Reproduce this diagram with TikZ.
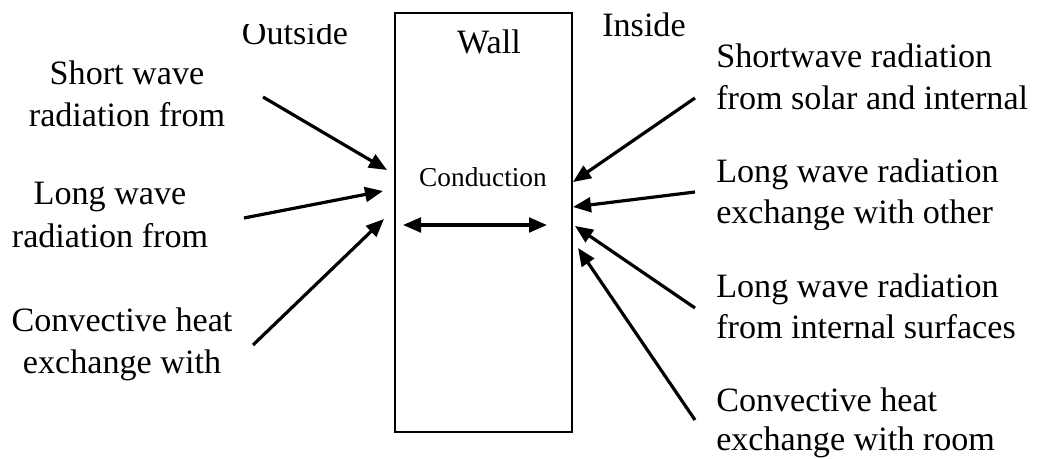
\documentclass[tikz,border=0pt]{standalone}
\usepackage{fontspec}
\setmainfont{Liberation Serif}
\usetikzlibrary{arrows.meta}
\begin{document}
\begin{tikzpicture}[x=0.75pt,y=-0.75pt,
  lbl/.style={inner sep=0pt, anchor=base, font=\fontsize{25.6}{30}\selectfont},
  lblL/.style={lbl, anchor=base west},
  tip/.tip={Triangle[length=13.5pt,width=11pt]},
  flow/.style={-tip, line width=2.4pt},
  wallbox/.style={draw, line width=1.8pt}]
\useasboundingbox (0,0) rectangle (1040,459);
% wall
\draw[wallbox] (395,13) rectangle (572,432);
\node[lbl] (wall) at (489,54) {Wall};
\node[lbl, font=\fontsize{20.5}{24}\selectfont] (cond) at (483,187) {Conduction};
\coordinate (cl) at (403,225);
\coordinate (cr) at (547,225);
\draw[tip-tip, line width=2.4pt] (cl) -- (cr);
% headers
\begin{scope}
\clip (200,25) rectangle (400,80);
\node[lbl] (outside) at (295,45) {Outside};
\end{scope}
\node[lbl] (inside) at (644,37) {Inside};
% left labels
\node[lbl] (a1) at (127,85) {Short wave};
\node[lbl] (a2) at (127,127) {radiation from};
\node[lbl] (b1) at (110,205) {Long wave};
\node[lbl] (b2) at (110,248) {radiation from};
\node[lbl] (c1) at (122,332) {Convective heat};
\node[lbl] (c2) at (122,374) {exchange with};
% right labels
\node[lblL] (d1) at (716,68) {Shortwave radiation};
\node[lblL] (d2) at (716,110) {from solar and internal};
\node[lblL] (e1) at (716,183) {Long wave radiation};
\begin{scope}
\clip (700,190) rectangle (1040,230);
\node[lblL] (e2) at (716,224) {exchange with other};
\end{scope}
\node[lblL] (f1) at (716,298) {Long wave radiation};
\node[lblL] (f2) at (716,339) {from internal surfaces};
\node[lblL] (g1) at (716,412) {Convective heat};
\node[lblL] (g2) at (716,451) {exchange with room};
% arrow end points
\coordinate (at) at (263,97);  \coordinate (ah) at (387,170);
\coordinate (bt) at (244,218); \coordinate (bh) at (383,191);
\coordinate (ct) at (253,345); \coordinate (ch) at (384,219);
\coordinate (dt) at (695,98);  \coordinate (dh) at (573,182);
\coordinate (et) at (695,192); \coordinate (eh) at (573,207);
\coordinate (ft) at (695,308); \coordinate (fh) at (575,226);
\coordinate (gt) at (695,420); \coordinate (gh) at (578,248);
\draw[flow] (at) -- (ah);
\draw[flow] (bt) -- (bh);
\draw[flow] (ct) -- (ch);
\draw[flow] (dt) -- (dh);
\draw[flow] (et) -- (eh);
\draw[flow] (ft) -- (fh);
\draw[flow] (gt) -- (gh);
\end{tikzpicture}
\end{document}
